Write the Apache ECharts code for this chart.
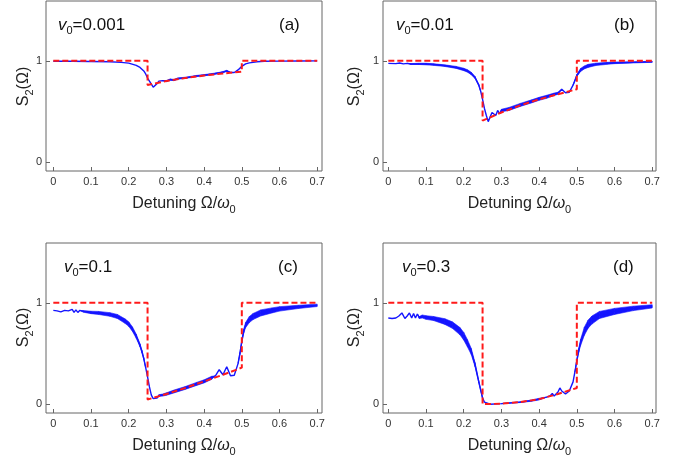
<!DOCTYPE html>
<html><head><meta charset="utf-8">
<script src="https://cdn.jsdelivr.net/npm/echarts@6/dist/echarts.min.js"></script>
<style>html,body{margin:0;padding:0;background:#fff}#c{width:693px;height:462px}</style>
</head><body><div id="c"></div>
<script>
// ---- tick labels ----
const xTicks = [0, 0.1, 0.2, 0.3, 0.4, 0.5, 0.6, 0.7];
const yTicks = [0, 1];
const panelTags = ['(a)', '(b)', '(c)', '(d)'];
const v0Labels = ['0.001', '0.01', '0.1', '0.3'];

// ---- red dashed reference (step) curves ----
const redX  = [0, 0.25, 0.25, 0.3, 0.35, 0.4, 0.45, 0.5, 0.5, 0.7];
const aRedY = [1, 1, 0.762, 0.8, 0.83, 0.855, 0.875, 0.893, 1, 1];
const bRedY = [1, 1, 0.41, 0.49, 0.56, 0.62, 0.67, 0.72, 1, 1];
const cRedY = [1, 1, 0.046, 0.1, 0.16, 0.225, 0.29, 0.36, 1, 1];
const dRedY = [1, 1, 0, 0.005, 0.02, 0.05, 0.1, 0.16, 1, 1];

// ---- blue curves: x, centre value, oscillation half-width ----
const aX = [0, 0.05, 0.1, 0.15, 0.18, 0.2, 0.22, 0.23, 0.24, 0.245, 0.25, 0.255, 0.26, 0.265, 0.27, 0.275, 0.28, 0.285, 0.29, 0.3, 0.31, 0.32, 0.33, 0.35, 0.38, 0.4, 0.42, 0.44, 0.45, 0.46, 0.47, 0.475, 0.48, 0.49, 0.5, 0.51, 0.52, 0.54, 0.56, 0.6, 0.65, 0.7];
const aY = [0.995, 0.995, 0.993, 0.99, 0.985, 0.977, 0.955, 0.935, 0.9, 0.87, 0.83, 0.8, 0.77, 0.74, 0.745, 0.775, 0.8, 0.785, 0.805, 0.8, 0.815, 0.81, 0.825, 0.832, 0.85, 0.858, 0.868, 0.88, 0.888, 0.9, 0.885, 0.878, 0.885, 0.91, 0.945, 0.97, 0.98, 0.99, 0.995, 0.997, 0.998, 0.999];
const aS = [0, 0, 0, 0, 0, 0, 0, 0, 0, 0, 0, 0, 0, 0, 0, 0, 0, 0, 0, 0.006, 0.006, 0.006, 0.006, 0.006, 0.006, 0.006, 0.006, 0.006, 0.006, 0.006, 0, 0, 0, 0, 0, 0, 0, 0, 0, 0, 0, 0];

const bX = [0, 0.02, 0.03, 0.04, 0.05, 0.06, 0.08, 0.1, 0.12, 0.15, 0.18, 0.2, 0.21, 0.22, 0.23, 0.24, 0.245, 0.25, 0.255, 0.26, 0.265, 0.27, 0.275, 0.28, 0.285, 0.29, 0.295, 0.3, 0.32, 0.35, 0.38, 0.4, 0.42, 0.44, 0.45, 0.46, 0.465, 0.47, 0.475, 0.48, 0.49, 0.5, 0.51, 0.52, 0.53, 0.55, 0.58, 0.6, 0.65, 0.7];
const bY = [0.975, 0.972, 0.978, 0.97, 0.975, 0.968, 0.97, 0.968, 0.963, 0.952, 0.935, 0.915, 0.9, 0.875, 0.835, 0.76, 0.7, 0.62, 0.53, 0.46, 0.4, 0.41, 0.49, 0.505, 0.46, 0.51, 0.48, 0.51, 0.525, 0.565, 0.6, 0.625, 0.645, 0.67, 0.68, 0.72, 0.71, 0.685, 0.675, 0.69, 0.76, 0.855, 0.91, 0.935, 0.95, 0.965, 0.975, 0.98, 0.985, 0.99];
const bS = [0, 0, 0, 0, 0, 0.004, 0.006, 0.008, 0.008, 0.008, 0.01, 0.012, 0.012, 0.012, 0.01, 0.006, 0, 0, 0, 0, 0, 0, 0, 0, 0, 0, 0, 0.012, 0.015, 0.015, 0.015, 0.015, 0.015, 0.012, 0.01, 0, 0, 0, 0, 0, 0, 0.01, 0.015, 0.015, 0.015, 0.012, 0.01, 0.008, 0.006, 0.005];

const cX = [0, 0.01, 0.02, 0.03, 0.035, 0.04, 0.045, 0.05, 0.055, 0.06, 0.065, 0.07, 0.08, 0.1, 0.12, 0.15, 0.17, 0.19, 0.2, 0.21, 0.22, 0.23, 0.235, 0.24, 0.245, 0.25, 0.255, 0.26, 0.265, 0.27, 0.275, 0.28, 0.29, 0.3, 0.32, 0.35, 0.38, 0.4, 0.42, 0.43, 0.44, 0.45, 0.46, 0.47, 0.475, 0.48, 0.49, 0.495, 0.5, 0.505, 0.51, 0.52, 0.53, 0.55, 0.58, 0.6, 0.65, 0.7];
const cY = [0.925, 0.92, 0.91, 0.925, 0.94, 0.92, 0.905, 0.935, 0.905, 0.93, 0.905, 0.925, 0.915, 0.905, 0.9, 0.885, 0.865, 0.82, 0.79, 0.74, 0.67, 0.58, 0.52, 0.45, 0.36, 0.27, 0.17, 0.09, 0.055, 0.045, 0.06, 0.085, 0.09, 0.1, 0.125, 0.16, 0.2, 0.225, 0.26, 0.28, 0.34, 0.29, 0.37, 0.28, 0.27, 0.285, 0.4, 0.5, 0.62, 0.72, 0.78, 0.835, 0.865, 0.9, 0.925, 0.94, 0.96, 0.975];
const cS = [0, 0, 0, 0, 0, 0, 0, 0, 0, 0, 0, 0, 0.008, 0.012, 0.015, 0.018, 0.02, 0.022, 0.022, 0.022, 0.02, 0.015, 0.012, 0.008, 0, 0, 0, 0, 0, 0, 0, 0.008, 0.01, 0.012, 0.014, 0.014, 0.015, 0.015, 0.015, 0, 0, 0, 0, 0, 0, 0, 0, 0.01, 0.015, 0.02, 0.025, 0.03, 0.03, 0.03, 0.025, 0.022, 0.016, 0.012];

const dX = [0, 0.01, 0.02, 0.028, 0.036, 0.044, 0.05, 0.056, 0.062, 0.067, 0.072, 0.077, 0.082, 0.09, 0.1, 0.12, 0.15, 0.17, 0.19, 0.2, 0.21, 0.22, 0.23, 0.24, 0.245, 0.25, 0.255, 0.26, 0.27, 0.3, 0.35, 0.38, 0.4, 0.42, 0.43, 0.435, 0.44, 0.45, 0.455, 0.46, 0.47, 0.475, 0.48, 0.49, 0.495, 0.5, 0.505, 0.51, 0.52, 0.53, 0.54, 0.56, 0.6, 0.65, 0.7];
const dY = [0.85, 0.845, 0.85, 0.87, 0.9, 0.845, 0.87, 0.9, 0.85, 0.895, 0.85, 0.89, 0.855, 0.865, 0.855, 0.845, 0.815, 0.78, 0.72, 0.67, 0.6, 0.52, 0.39, 0.22, 0.14, 0.06, 0.02, 0.005, 0, 0.005, 0.02, 0.035, 0.05, 0.07, 0.085, 0.105, 0.08, 0.12, 0.16, 0.13, 0.1, 0.105, 0.13, 0.22, 0.32, 0.43, 0.53, 0.61, 0.72, 0.79, 0.83, 0.88, 0.915, 0.945, 0.965];
const dS = [0, 0, 0, 0, 0, 0, 0, 0, 0, 0, 0, 0, 0.01, 0.015, 0.018, 0.02, 0.028, 0.032, 0.036, 0.038, 0.036, 0.03, 0.02, 0.01, 0.005, 0, 0, 0, 0, 0, 0.004, 0.006, 0.008, 0, 0, 0, 0, 0, 0, 0, 0, 0, 0, 0, 0, 0.01, 0.02, 0.03, 0.04, 0.04, 0.04, 0.035, 0.03, 0.022, 0.016];

// ---- layout ----
const panels = [
  {x: aX, y: aY, s: aS, ry: aRedY},
  {x: bX, y: bY, s: bS, ry: bRedY},
  {x: cX, y: cY, s: cS, ry: cRedY},
  {x: dX, y: dY, s: dS, ry: dRedY}
];
const gridPos = [
  {left: 46, top: 1, width: 276, height: 170},
  {left: 383, top: 1, width: 273, height: 170},
  {left: 46, top: 243, width: 276, height: 170},
  {left: 383, top: 243, width: 273, height: 170}
];
const xMinMax = [[-0.0194, 0.7127], [-0.0141, 0.710], [-0.0194, 0.7127], [-0.0141, 0.710]];
const yTitlePos = [[24, 86.5], [355, 86.5], [24, 327.5], [355, 327.5]];
const annotPos = [
  {vx: 58, tx: 279, y: 25}, {vx: 396, tx: 614, y: 25},
  {vx: 64, tx: 278, y: 267}, {vx: 402, tx: 613, y: 267}
];

const FONT = '"Liberation Sans", Arial, sans-serif';
const BLUE = '#1414ff';
const RED = '#ff1a1a';
const FRAME = '#666666';

const zip = (xs, ys) => xs.map((v, i) => [v, ys[i]]);
function bandData(xs, ys, sp) {
  const d = [];
  for (let i = 0; i < xs.length - 1; i++) {
    if (sp[i] > 0 || sp[i + 1] > 0) {
      d.push([xs[i], ys[i] - sp[i], ys[i] + sp[i], xs[i + 1], ys[i + 1] - sp[i + 1], ys[i + 1] + sp[i + 1]]);
    }
  }
  return d;
}

const grid = [], xAxis = [], yAxis = [], series = [], graphic = [];
panels.forEach((p, k) => {
  grid.push(Object.assign({show: true, borderColor: FRAME, borderWidth: 1, backgroundColor: 'transparent'}, gridPos[k]));
  xAxis.push({
    type: 'value', gridIndex: k, min: xMinMax[k][0], max: xMinMax[k][1],
    splitLine: {show: false},
    axisLine: {show: false, onZero: false},
    axisTick: {show: true, inside: true, length: 4, customValues: xTicks, lineStyle: {color: FRAME}},
    axisLabel: {customValues: xTicks, margin: 5, fontSize: 11, color: '#333', fontFamily: FONT,
      formatter: v => (Math.abs(v) < 1e-9 ? '0' : v.toFixed(1))},
    name: '{t|Detuning Ω/}{i|ω}{s|0}', nameLocation: 'middle', nameGap: 22,
    nameTextStyle: {fontFamily: FONT, color: '#222', rich: {
      t: {fontSize: 16, lineHeight: 22, fontFamily: FONT, color: '#222'},
      i: {fontSize: 16, lineHeight: 22, fontStyle: 'italic', fontFamily: FONT, color: '#222'},
      s: {fontSize: 11, lineHeight: 13, verticalAlign: 'bottom', fontFamily: FONT, color: '#222'}
    }}
  });
  yAxis.push({
    type: 'value', gridIndex: k, min: -0.087, max: 1.59,
    splitLine: {show: false},
    axisLine: {show: false, onZero: false},
    axisTick: {show: true, inside: true, length: 4, customValues: yTicks, lineStyle: {color: FRAME}},
    axisLabel: {customValues: yTicks, margin: 4, fontSize: 11, color: '#333', fontFamily: FONT,
      formatter: v => String(Math.round(v))}
  });
  series.push({
    type: 'custom', xAxisIndex: k, yAxisIndex: k, z: 2, silent: true,
    encode: {x: [0, 3], y: [1, 2, 4, 5]},
    data: bandData(p.x, p.y, p.s),
    renderItem: (params, api) => {
      const pts = [
        api.coord([api.value(0), api.value(2)]),
        api.coord([api.value(3), api.value(5)]),
        api.coord([api.value(3), api.value(4)]),
        api.coord([api.value(0), api.value(1)])
      ];
      return {type: 'polygon', shape: {points: pts}, style: {fill: BLUE, stroke: BLUE, lineWidth: 0.6}};
    }
  });
  series.push({
    type: 'line', xAxisIndex: k, yAxisIndex: k, z: 3, showSymbol: false, silent: true,
    data: zip(p.x, p.y), lineStyle: {color: BLUE, width: 1.4}
  });
  series.push({
    type: 'line', xAxisIndex: k, yAxisIndex: k, z: 4, showSymbol: false, silent: true,
    data: zip(redX, p.ry), lineStyle: {color: RED, width: 2, type: [6, 3]}
  });
  // y-axis title (rotated)
  graphic.push({
    type: 'text', z: 10, x: yTitlePos[k][0], y: yTitlePos[k][1], rotation: Math.PI / 2,
    style: {
      x: 0, y: 0, align: 'center', verticalAlign: 'middle',
      text: '{t|S}{s|2}{t|(Ω)}',
      rich: {
        t: {fontSize: 16, lineHeight: 22, fontFamily: FONT, fill: '#222'},
        s: {fontSize: 11, lineHeight: 13, verticalAlign: 'bottom', fontFamily: FONT, fill: '#222'}
      }
    }
  });
  const a = annotPos[k];
  graphic.push({
    type: 'text', z: 10, style: {
      x: a.vx, y: a.y, verticalAlign: 'middle',
      text: '{v|v}{s|0}{t|=' + v0Labels[k] + '}',
      rich: {
        v: {fontSize: 17, lineHeight: 22, fontStyle: 'italic', fontFamily: FONT, fill: '#111'},
        s: {fontSize: 11, lineHeight: 13, verticalAlign: 'bottom', fontFamily: FONT, fill: '#111'},
        t: {fontSize: 17, lineHeight: 22, fontFamily: FONT, fill: '#111'}
      }
    }
  });
  graphic.push({
    type: 'text', z: 10, style: {
      x: a.tx, y: a.y, verticalAlign: 'middle', text: panelTags[k],
      fontSize: 17, fontFamily: FONT, fill: '#111'
    }
  });
});

const chart = echarts.init(document.getElementById('c'), null, {renderer: 'canvas'});
chart.setOption({animation: false, grid, xAxis, yAxis, series, graphic});
</script>
</body></html>
